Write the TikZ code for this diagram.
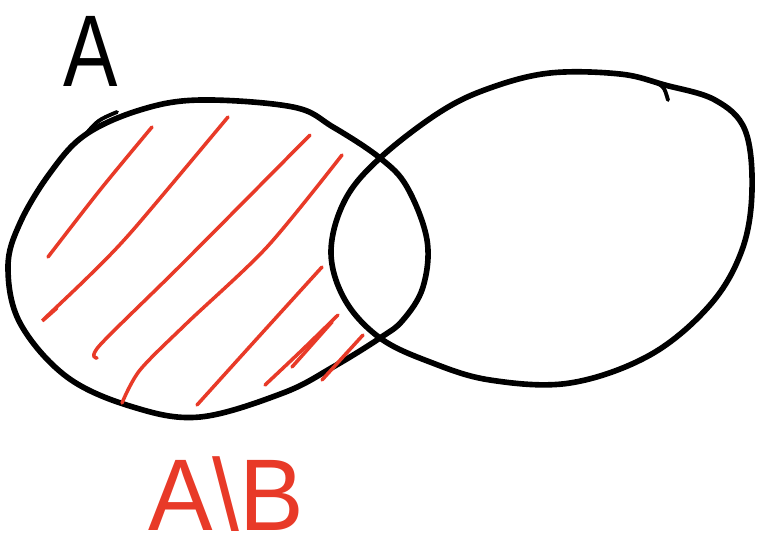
\documentclass[tikz,border=0pt]{standalone}
\usepackage{fontspec}
\setsansfont{Liberation Sans}
\usepackage{tikz}
\usetikzlibrary{positioning}
\definecolor{hatch-color}{RGB}{232,58,40}

\begin{document}
\begin{tikzpicture}[x=0.02cm, y=-0.02cm,
    % pen styles
    pen/.style={draw=black, line width=3.2pt, line cap=round, line join=round},
    hatch/.style={draw=hatch-color, line width=2pt, line cap=round},
    lbl/.style={font=\sffamily\fontsize{58}{58}\selectfont, inner sep=0pt, anchor=base west}
]
\useasboundingbox (0,0) rectangle (757,549);

% ===== set A =====
\draw[pen] plot[smooth cycle, tension=0.6] coordinates {
    (85,135) (140,110) (200,100) (293,107) (333,127) (380,158) (407,187)
    (427,240) (423,287) (403,320) (380,338) (333,367) (283,393) (200,417)
    (133,407) (67,377) (20,323) (8,267) (20,223) (50,173)};
\draw[pen, line width=2.2pt] (85,135) .. controls (98,120) .. (117,112);

% ===== set B =====
\draw[pen] plot[smooth cycle, tension=0.6] coordinates {
    (380,158) (440,112) (490,88) (550,73) (620,74) (665,85) (715,100)
    (745,130) (752,190) (742,250) (710,305) (650,355) (570,383) (490,380)
    (430,362) (380,338) (345,300) (331,252) (345,200)};
\draw[pen, line width=2.2pt] (650,80) .. controls (664,86) .. (668,100);

% ===== hatching of A minus B =====
\draw[hatch] plot[smooth] coordinates {(48,257) (100,190) (152,127)};
\draw[hatch] plot[smooth] coordinates {(57,308) (43,320) (90,275) (133,230) (228,117)};
\draw[hatch] plot[smooth] coordinates {(97,358) (100,345) (183,263) (310,135)};
\draw[hatch] plot[smooth] coordinates {(122,403) (140,370) (187,323) (267,247) (342,155)};
\draw[hatch] plot[smooth] coordinates {(197,405) (253,343) (322,267)};
\draw[hatch] plot[smooth] coordinates {(265,385) (300,352) (338,315)};
\draw[hatch] (292,367) -- (332,322);
\draw[hatch] (322,380) -- (363,335);

% ===== labels =====
\node[lbl] (labelA) at (63,86) {\scalebox{0.8}[1]{A}};
\node[lbl, text=hatch-color] (labelAB) at (148,530) {\scalebox{0.95}[1]{A\textbackslash B}};

\end{tikzpicture}
\end{document}
